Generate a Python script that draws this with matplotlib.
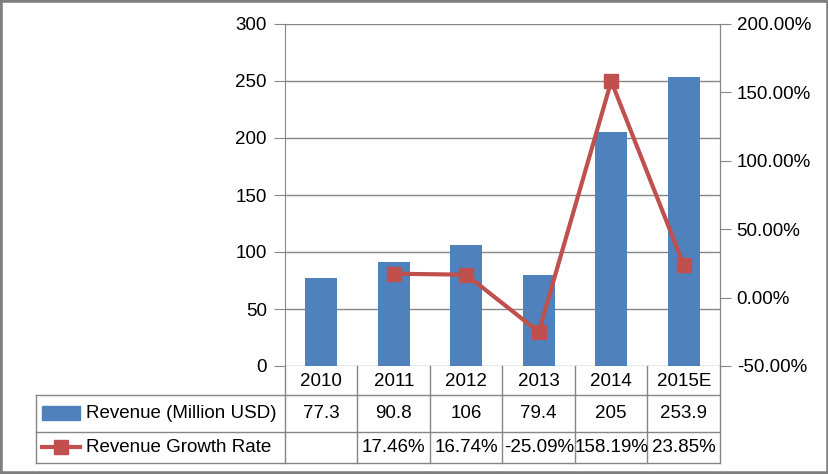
import matplotlib
matplotlib.use("Agg")
import matplotlib.pyplot as plt
from matplotlib.lines import Line2D
from matplotlib.patches import Rectangle
from matplotlib.ticker import FuncFormatter
import matplotlib.transforms as mtransforms

years = ["2010", "2011", "2012", "2013", "2014", "2015E"]
revenue = [77.3, 90.8, 106, 79.4, 205, 253.9]
revenue_labels = ["77.3", "90.8", "106", "79.4", "205", "253.9"]
growth = [None, 0.1746, 0.1674, -0.2509, 1.5819, 0.2385]
growth_labels = ["", "17.46%", "16.74%", "-25.09%", "158.19%", "23.85%"]
bar_name = "Revenue (Million USD)"
line_name = "Revenue Growth Rate"

BLUE = "#4F81BD"
RED = "#C0504D"
GRID = "#868686"
FS = 13.5

plt.rcParams['font.family'] = ['Liberation Sans', 'DejaVu Sans']
plt.rcParams['font.size'] = FS

W, H = 829, 474
fig = plt.figure(figsize=(W / 100, H / 100), dpi=100)

def fx(px):
    return px / W

def fy(py):
    return 1 - py / H

ax = fig.add_axes([fx(285), fy(366), fx(720) - fx(285), fy(24) - fy(366)])
x = list(range(len(years)))
ax.bar(x, revenue, width=0.44, color=BLUE, zorder=2)
ax.set_xlim(-0.5, len(years) - 0.5)
ax.set_ylim(0, 300)
ax.set_yticks(range(0, 301, 50))
ax.set_xticks([])
ax.yaxis.grid(True, color=GRID, linewidth=1)
ax.set_axisbelow(True)
for s in ["top", "bottom"]:
    ax.spines[s].set_visible(False)
ax.spines["left"].set_color(GRID)
ax.spines["right"].set_color(GRID)
ax.tick_params(axis="y", length=8, color=GRID, pad=5, labelsize=FS)

ax2 = ax.twinx()
gx = [i for i, g in zip(x, growth) if g is not None]
gy = [g for g in growth if g is not None]
ax2.plot(gx, gy, color=RED, linewidth=3, marker="s", markersize=10, zorder=3)
ax2.set_ylim(-0.5, 2.0)
ax2.set_yticks([-0.5, 0, 0.5, 1.0, 1.5, 2.0])
ax2.yaxis.set_major_formatter(FuncFormatter(lambda v, p: "%.2f%%" % (v * 100)))
for s in ["top", "bottom", "left"]:
    ax2.spines[s].set_visible(False)
ax2.spines["right"].set_color(GRID)
ax2.tick_params(axis="y", length=8, color=GRID, pad=4, labelsize=FS)

# data table below the chart
trans = mtransforms.blended_transform_factory(ax.transData, fig.transFigure)
edges = [i - 0.5 for i in range(len(years) + 1)]
for e in edges:
    fig.add_artist(Line2D([e, e], [fy(366), fy(463)], transform=trans, color=GRID, linewidth=1))
for yy in [395, 432, 463]:
    fig.add_artist(Line2D([fx(36), fx(720)], [fy(yy), fy(yy)], color=GRID, linewidth=1))
fig.add_artist(Line2D([fx(36), fx(36)], [fy(395), fy(463)], color=GRID, linewidth=1))

for i, yr in enumerate(years):
    fig.text(i, fy(381), yr, transform=trans, ha="center", va="center")
    fig.text(i, fy(414), revenue_labels[i], transform=trans, ha="center", va="center")
    fig.text(i, fy(448), growth_labels[i], transform=trans, ha="center", va="center")

fig.add_artist(Rectangle((fx(42), fy(420)), fx(80) - fx(42), fy(406) - fy(420), color=BLUE))
fig.text(fx(86), fy(414), bar_name, ha="left", va="center")
fig.add_artist(Line2D([fx(42), fx(80)], [fy(447), fy(447)], color=RED, linewidth=3))
fig.add_artist(Line2D([fx(61)], [fy(447)], color=RED, marker="s", markersize=10))
fig.text(fx(86), fy(448), line_name, ha="left", va="center")

# outer border
fig.add_artist(Rectangle((0, 0), 1, 1, fill=False, edgecolor="#7F7F7F", linewidth=4, transform=fig.transFigure))

fig.savefig("out.png", dpi=100)
